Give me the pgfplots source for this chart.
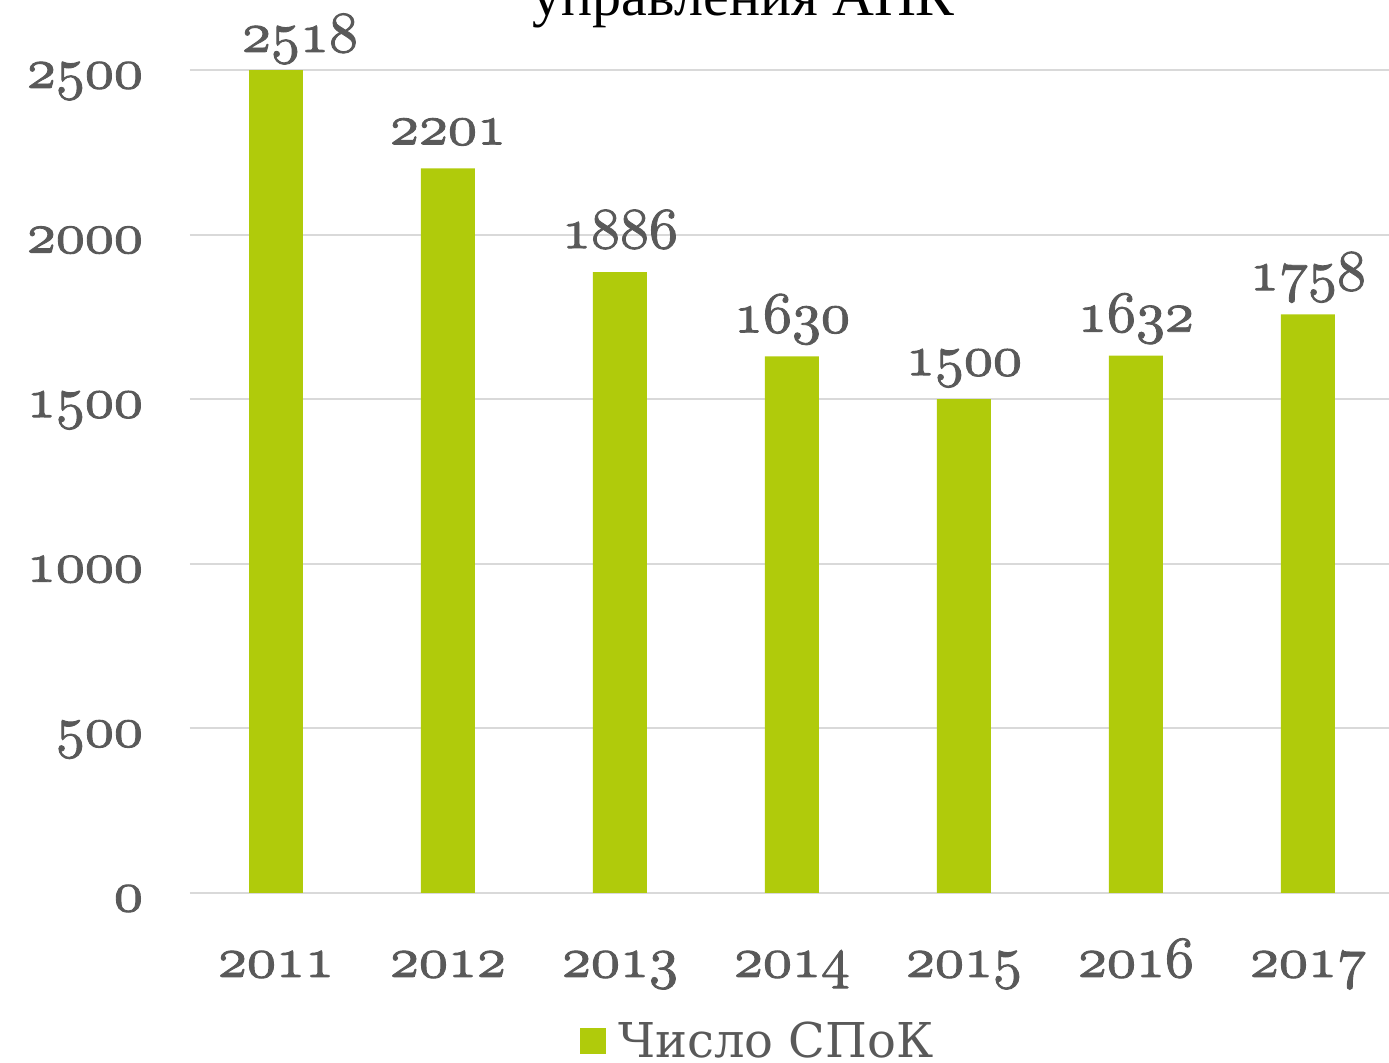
\documentclass[border=0pt]{standalone}
\usepackage{fontspec}
\usepackage{pgfplots}
\pgfplotsset{compat=1.18}
\newfontfamily\dejavu{DejaVu Serif}
\newfontfamily\libser{Liberation Serif}
\definecolor{barcol}{HTML}{B0CB0B}
\definecolor{txtgray}{HTML}{595959}
\definecolor{gridgray}{HTML}{D9D9D9}
% scalable math italic, for old-style figures at large sizes
\DeclareFontFamily{OML}{cmm}{\skewchar\font'177}
\DeclareFontShape{OML}{cmm}{m}{it}{<->cmmi10}{}
% old-style figures, as in the original (Georgia); stroked a little to be heavier
\newcommand\osn[1]{\special{pdf:literal direct 2 Tr 0.45 w}$\mathnormal{#1}$\special{pdf:literal direct 0 Tr}}

\begin{document}
\begin{tikzpicture}
\begin{axis}[
  scale only axis, width=602pt, height=411.5pt,
  xmin=-0.5, xmax=6.5, ymin=0, ymax=2500,
  ybar, bar width=27pt, bar shift=0pt,
  axis line style={draw=none}, major tick length=0pt,
  ymajorgrids, grid style={line width=1pt, gridgray},
  ytick={0,500,1000,1500,2000,2500},
  yticklabels={\osn{0},\osn{500},\osn{1000},\osn{1500},\osn{2000},\osn{2500}},
  xtick={0,...,6},
  xticklabels={\osn{2011},\osn{2012},\osn{2013},\osn{2014},\osn{2015},\osn{2016},\osn{2017}},
  ticklabel style={font=\fontsize{29}{34}\selectfont, text=txtgray},
  yticklabel style={anchor=base east, xshift=-20pt, yshift=-9pt},
  xticklabel style={anchor=base, yshift=-42pt},
  point meta=explicit symbolic,
  nodes near coords={\osn{\pgfplotspointmeta}},
  every node near coord/.append style={font=\fontsize{29}{34}\selectfont, text=txtgray, anchor=base, yshift=12pt},
  title={управления АПК},
  title style={at={(axis description cs:0.46,1.0522)}, anchor=base, font=\libser\fontsize{29}{35}\selectfont, text=black},
  legend style={at={(axis description cs:0.3239,-0.1804)}, anchor=west, draw=none, fill=none, inner sep=0pt,
    font=\dejavu\fontsize{24}{30}\selectfont, text=txtgray},
  legend image code/.code={\fill[barcol] (0pt,-6.5pt) rectangle (13pt,6.5pt); \path (17pt,0pt);},
  legend cell align=left,
]
\addplot[fill=barcol, draw=none] coordinates {
  (1,2201) [2201]
  (2,1886) [1886]
  (3,1630) [1630]
  (4,1500) [1500]
  (5,1632) [1632]
  (6,1758) [1758]
};
\addlegendentry{Число СПоК}
% the 2011 bar runs past the top of the axis, as in the original
\addplot[fill=barcol, draw=none, forget plot, restrict y to domain*=0:2500,
  every node near coord/.append style={xshift=12pt, yshift=-3pt}] coordinates {
  (0,2518) [2518]
};
\end{axis}
\pgfresetboundingbox
\useasboundingbox (-95pt,-85pt) rectangle (599.5pt,446.5pt);
\end{tikzpicture}
\end{document}
